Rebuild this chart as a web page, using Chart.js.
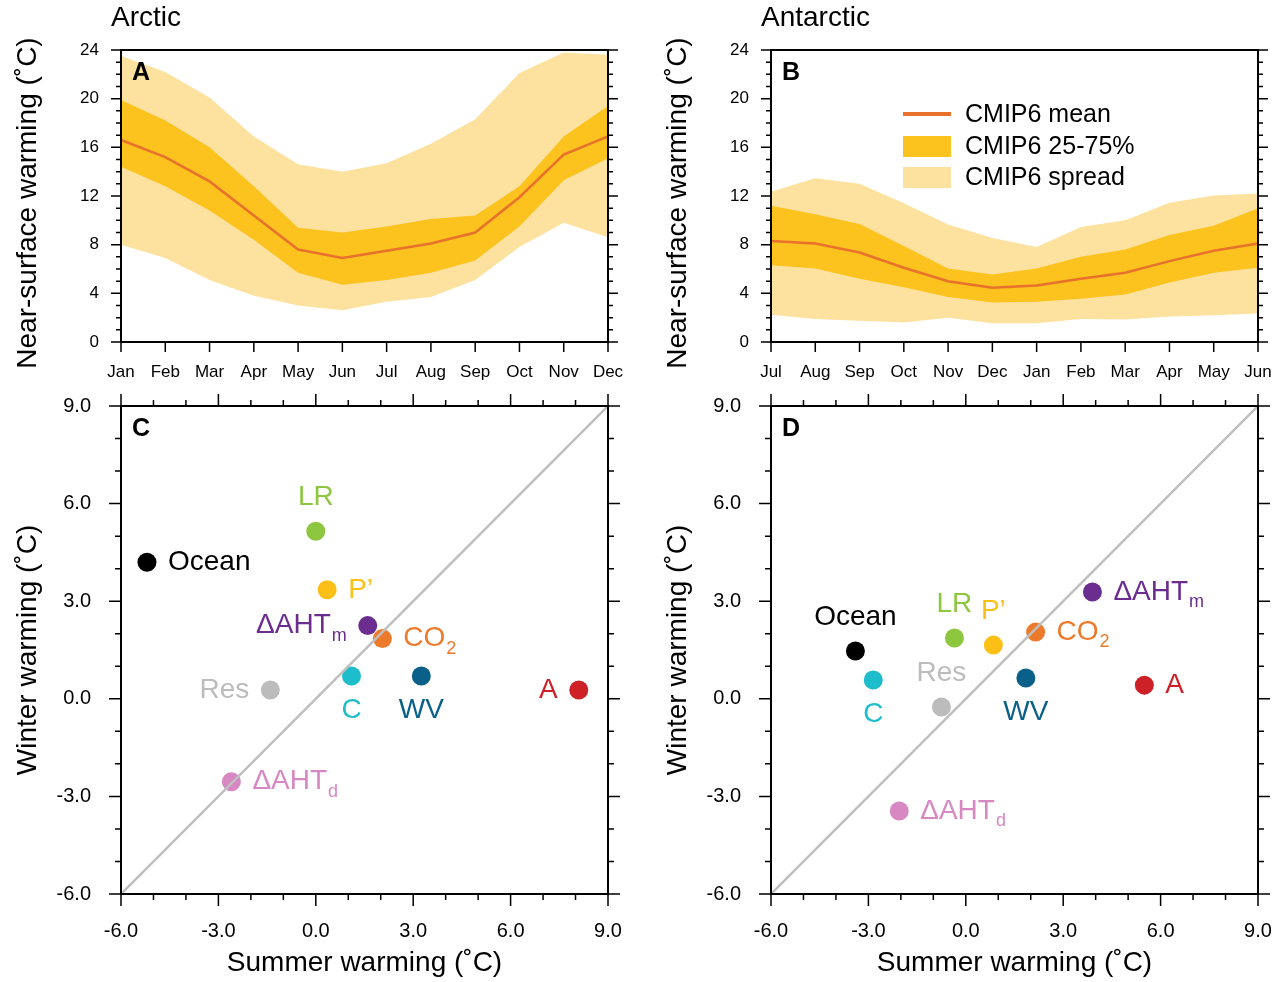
<!DOCTYPE html>
<html lang="en">
<head>
<meta charset="UTF-8" />
<title>Arctic and Antarctic warming</title>
<script src="https://cdn.jsdelivr.net/npm/chart.js"></script>
<style>
  body { margin: 0; background: #fff; width: 1286px; height: 982px; overflow: hidden; position: relative; }
  canvas { position: absolute; }
  #chartA { left: 0; top: 0; }
  #chartB { left: 650px; top: 0; }
  #chartC { left: 0; top: 392px; }
  #chartD { left: 650px; top: 392px; }
</style>
</head>
<body>

<canvas id="chartA" width="643" height="392"></canvas>
<canvas id="chartB" width="643" height="392"></canvas>
<canvas id="chartC" width="643" height="590"></canvas>
<canvas id="chartD" width="643" height="590"></canvas>

<script>
  // seasonal cycle, Arctic (Jan..Dec)
  const arcticMonths = ['Jan', 'Feb', 'Mar', 'Apr', 'May', 'Jun', 'Jul', 'Aug', 'Sep', 'Oct', 'Nov', 'Dec'];
  const arcticMean = [16.6, 15.2, 13.2, 10.4, 7.6, 6.9, 7.5, 8.1, 9.0, 11.9, 15.4, 16.9];
  const arcticQ75 = [19.9, 18.2, 16.0, 12.8, 9.4, 9.0, 9.5, 10.1, 10.4, 12.8, 16.9, 19.4];
  const arcticQ25 = [14.4, 12.8, 10.8, 8.4, 5.7, 4.7, 5.1, 5.7, 6.7, 9.5, 13.3, 15.1];
  const arcticMax = [23.5, 22.2, 20.1, 16.9, 14.6, 14.0, 14.7, 16.3, 18.3, 22.1, 23.8, 23.6];
  const arcticMin = [8.0, 6.9, 5.1, 3.8, 3.0, 2.6, 3.3, 3.7, 5.1, 7.8, 9.8, 8.6];

  // seasonal cycle, Antarctic (Jul..Jun)
  const antarcticMonths = ['Jul', 'Aug', 'Sep', 'Oct', 'Nov', 'Dec', 'Jan', 'Feb', 'Mar', 'Apr', 'May', 'Jun'];
  const antarcticMean = [8.3, 8.1, 7.35, 6.1, 5.0, 4.45, 4.65, 5.2, 5.7, 6.65, 7.5, 8.1];
  const antarcticQ75 = [11.2, 10.5, 9.7, 7.9, 6.05, 5.55, 6.05, 7.0, 7.6, 8.8, 9.55, 11.0];
  const antarcticQ25 = [6.3, 6.05, 5.2, 4.5, 3.7, 3.25, 3.3, 3.55, 3.9, 4.9, 5.7, 6.1];
  const antarcticMax = [12.35, 13.45, 13.0, 11.4, 9.65, 8.55, 7.8, 9.45, 10.0, 11.45, 12.05, 12.2];
  const antarcticMin = [2.25, 1.9, 1.75, 1.6, 2.0, 1.55, 1.55, 1.9, 1.85, 2.1, 2.2, 2.35];

  // feedback terms
  const termNames = ['Ocean', 'LR', 'P\u2019', '\u0394AHT', 'CO', 'C', 'WV', 'Res', 'A', '\u0394AHT'];
  const termSubs = ['', '', '', 'm', '2', '', '', '', '', 'd'];
  const arcticSummer = [-5.2, 0.0, 0.35, 1.6, 2.05, 1.1, 3.25, -1.4, 8.1, -2.6];
  const arcticWinter = [4.2, 5.15, 3.35, 2.25, 1.85, 0.7, 0.7, 0.27, 0.27, -2.55];
  const antarcticSummer = [-3.4, -0.35, 0.85, 3.9, 2.15, -2.85, 1.85, -0.75, 5.5, -2.05];
  const antarcticWinter = [1.47, 1.87, 1.65, 3.28, 2.05, 0.58, 0.64, -0.25, 0.42, -3.45];
  const oneToOne = [-6, 9];

  // styling
  const termColors = ['#000000', '#8dc63f', '#fbbf16', '#6b2d90', '#ed7a2a', '#1dbdcb', '#0b6089', '#bcbcbc', '#cd2027', '#d788c3'];
  const arcticSides = ['r', 'a', 'r', 'l', 'r', 'b', 'b', 'l', 'l', 'r'];
  const antarcticSides = ['a', 'a', 'a', 'r', 'r', 'b', 'b', 'a', 'r', 'r'];
  const meanColor = '#e8712b';
  const iqrColor = '#fcc21e';
  const spreadColor = '#fde29f';
  const FONT = "'Liberation Sans', Arial, Helvetica, sans-serif";

  Chart.defaults.font.family = FONT;
  Chart.defaults.color = '#000';

  const isMult = (v, step) => Math.abs(v / step - Math.round(v / step)) < 1e-6;

  // box, outward ticks, panel letter, title, legend
  const framePlugin = {
    id: 'frame',
    afterDatasetsDraw(chart, args, o) {
      const { ctx, chartArea: a, scales: { x, y } } = chart;
      ctx.save();
      ctx.strokeStyle = '#000';
      ctx.lineWidth = 1.5;
      ctx.beginPath();
      for (let v = y.min; v <= y.max + 1e-9; v += o.yMinor) {
        const py = y.getPixelForValue(v);
        const len = isMult(v, o.yMajor) ? o.major : o.minor;
        ctx.moveTo(a.left, py); ctx.lineTo(a.left - len, py);
        ctx.moveTo(a.right, py); ctx.lineTo(a.right + len, py);
      }
      if (x.type === 'category') {
        x.getLabels().forEach((l, i) => {
          const px = x.getPixelForValue(i);
          ctx.moveTo(px, a.bottom); ctx.lineTo(px, a.bottom + o.major);
        });
      } else {
        for (let v = x.min; v <= x.max + 1e-9; v += o.xMinor) {
          const px = x.getPixelForValue(v);
          const len = isMult(v, o.xMajor) ? o.major : o.minor;
          ctx.moveTo(px, a.bottom); ctx.lineTo(px, a.bottom + len);
          ctx.moveTo(px, a.top); ctx.lineTo(px, a.top - len);
        }
      }
      ctx.stroke();
      ctx.lineWidth = 2;
      ctx.strokeRect(a.left, a.top, a.right - a.left, a.bottom - a.top);

      ctx.fillStyle = '#000';
      ctx.textBaseline = 'middle';
      ctx.textAlign = 'left';
      ctx.font = 'bold 25px ' + FONT;
      ctx.fillText(o.letter, a.left + 11, a.top + 23);
      if (o.title) {
        ctx.font = '28px ' + FONT;
        ctx.fillText(o.title, a.left - 10, 18);
      }
      if (o.legend) {
        const lx = a.left + 132, ly = a.top + 64;
        ctx.strokeStyle = meanColor;
        ctx.lineWidth = 4;
        ctx.beginPath(); ctx.moveTo(lx, ly); ctx.lineTo(lx + 48, ly); ctx.stroke();
        ctx.fillStyle = iqrColor; ctx.fillRect(lx, ly + 22, 48, 21);
        ctx.fillStyle = spreadColor; ctx.fillRect(lx, ly + 53, 48, 21);
        ctx.fillStyle = '#000';
        ctx.font = '25px ' + FONT;
        ctx.fillText('CMIP6 mean', lx + 62, ly + 1);
        ctx.fillText('CMIP6 25-75%', lx + 62, ly + 33);
        ctx.fillText('CMIP6 spread', lx + 62, ly + 64);
      }
      ctx.restore();
    }
  };

  // coloured names beside each scatter point
  const labelPlugin = {
    id: 'termLabels',
    afterDatasetsDraw(chart, args, o) {
      if (!o.sides) return;
      const { ctx } = chart;
      const meta = chart.getDatasetMeta(1);
      ctx.save();
      ctx.textBaseline = 'middle';
      ctx.textAlign = 'left';
      termNames.forEach((name, i) => {
        const el = meta.data[i];
        ctx.font = '28px ' + FONT;
        const w1 = ctx.measureText(name).width;
        ctx.font = '18px ' + FONT;
        const w2 = termSubs[i] ? ctx.measureText(termSubs[i]).width + 1 : 0;
        const w = w1 + w2;
        const side = o.sides[i];
        let lx, ly = el.y;
        if (side === 'r') lx = el.x + 21;
        else if (side === 'l') lx = el.x - 21 - w;
        else { lx = el.x - w / 2; ly = el.y + (side === 'a' ? -34 : 34); }
        ctx.fillStyle = termColors[i];
        ctx.font = '28px ' + FONT;
        ctx.fillText(name, lx, ly);
        if (termSubs[i]) {
          ctx.font = '18px ' + FONT;
          ctx.fillText(termSubs[i], lx + w1 + 1, ly + 10);
        }
      });
      ctx.restore();
    }
  };

  const noGrid = { display: false, drawTicks: false };
  function fixY(s) { s.width = 121; s.paddingTop = 0; s.paddingBottom = 0; }

  function bandChart(id, months, lo, q25, mean, q75, hi, letter, title, legend) {
    return new Chart(document.getElementById(id), {
      type: 'line',
      data: {
        labels: months,
        datasets: [
          { data: mean, borderColor: meanColor, borderWidth: 2.5, pointRadius: 0, fill: false, order: 0 },
          { data: q75, borderWidth: 0, pointRadius: 0, backgroundColor: iqrColor, fill: '+1', order: 1 },
          { data: q25, borderWidth: 0, pointRadius: 0, fill: false, order: 1 },
          { data: hi, borderWidth: 0, pointRadius: 0, backgroundColor: spreadColor, fill: '+1', order: 2 },
          { data: lo, borderWidth: 0, pointRadius: 0, fill: false, order: 2 }
        ]
      },
      options: {
        responsive: false,
        animation: false,
        layout: { padding: { top: 50, right: 35, left: 0, bottom: 0 } },
        plugins: {
          legend: { display: false },
          tooltip: { enabled: false },
          frame: { letter, title, legend, yMajor: 4, yMinor: 1, major: 10, minor: 5 }
        },
        scales: {
          x: {
            offset: false,
            grid: noGrid,
            border: { display: false },
            ticks: { font: { size: 17 }, padding: 20, maxRotation: 0, autoSkip: false },
            afterFit(s) { s.height = 50; s.paddingLeft = 0; s.paddingRight = 0; }
          },
          y: {
            min: 0, max: 24,
            grid: noGrid,
            border: { display: false },
            ticks: { stepSize: 4, font: { size: 17 }, padding: 22 },
            title: { display: true, text: 'Near-surface warming (\u02DAC)\u2002', font: { size: 28 }, padding: 11 },
            afterFit: fixY
          }
        }
      },
      plugins: [framePlugin]
    });
  }

  function scatterChart(id, summer, winter, sides, letter) {
    return new Chart(document.getElementById(id), {
      type: 'scatter',
      data: {
        datasets: [
          {
            type: 'line',
            data: oneToOne.map(v => ({ x: v, y: v })),
            borderColor: '#bfbfbf', borderWidth: 2.5, pointRadius: 0, order: 0
          },
          {
            data: summer.map((v, i) => ({ x: v, y: winter[i] })),
            backgroundColor: termColors, borderWidth: 0, pointRadius: 9.5, order: 1
          }
        ]
      },
      options: {
        responsive: false,
        animation: false,
        layout: { padding: { top: 14, right: 35, left: 0, bottom: 0 } },
        plugins: {
          legend: { display: false },
          tooltip: { enabled: false },
          frame: { letter, yMajor: 3, yMinor: 1, xMajor: 3, xMinor: 1, major: 12, minor: 6 },
          termLabels: { sides }
        },
        scales: {
          x: {
            type: 'linear', min: -6, max: 9,
            grid: noGrid,
            border: { display: false },
            ticks: { stepSize: 3, font: { size: 20 }, padding: 25, maxRotation: 0, callback: v => v.toFixed(1) },
            title: { display: true, text: 'Summer warming (\u02DAC)', font: { size: 28 }, padding: 2 },
            afterFit(s) { s.height = 88; s.paddingLeft = 0; s.paddingRight = 0; }
          },
          y: {
            min: -6, max: 9,
            grid: noGrid,
            border: { display: false },
            ticks: { stepSize: 3, font: { size: 20 }, padding: 30, callback: v => v.toFixed(1) },
            title: { display: true, text: 'Winter warming (\u02DAC)', font: { size: 28 }, padding: 11 },
            afterFit: fixY
          }
        }
      },
      plugins: [framePlugin, labelPlugin]
    });
  }

  bandChart('chartA', arcticMonths, arcticMin, arcticQ25, arcticMean, arcticQ75, arcticMax, 'A', 'Arctic', false);
  bandChart('chartB', antarcticMonths, antarcticMin, antarcticQ25, antarcticMean, antarcticQ75, antarcticMax, 'B', 'Antarctic', true);
  scatterChart('chartC', arcticSummer, arcticWinter, arcticSides, 'C');
  scatterChart('chartD', antarcticSummer, antarcticWinter, antarcticSides, 'D');
</script>

</body>
</html>
